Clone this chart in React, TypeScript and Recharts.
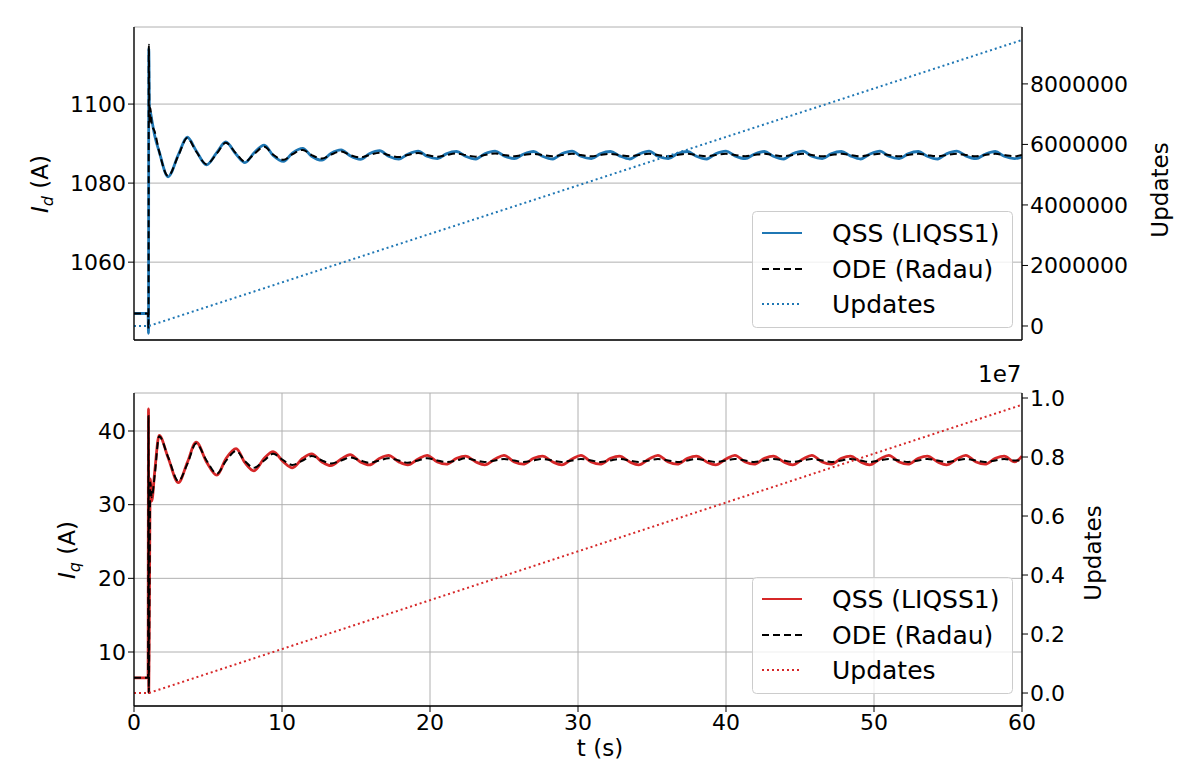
import React from 'react';
import { ComposedChart, Line, XAxis, YAxis, CartesianGrid } from 'recharts';

const timeS = [0, 0.95, 0.98, 1.0, 1.05, 1.1, 1.2, 1.4, 1.7, 2.3, 3.0, 3.6, 4.2, 4.9, 5.6, 6.2, 6.9, 7.5, 8.1, 8.8, 9.4, 10.1, 10.7, 11.4, 12.0, 12.7, 13.3, 14.0, 14.6, 15.3, 15.9, 16.6, 17.2, 17.9, 18.5, 19.2, 19.8, 20.5, 21.1, 21.8, 22.4, 23.1, 23.7, 24.4, 25.0, 25.7, 26.3, 27.0, 27.6, 28.3, 28.9, 29.6, 30.2, 30.9, 31.5, 32.2, 32.8, 33.5, 34.1, 34.8, 35.4, 36.1, 36.7, 37.4, 38.0, 38.7, 39.3, 40.0, 40.6, 41.3, 41.9, 42.6, 43.2, 43.9, 44.5, 45.2, 45.8, 46.5, 47.1, 47.8, 48.4, 49.1, 49.7, 50.4, 51.0, 51.7, 52.3, 53.0, 53.6, 54.3, 54.9, 55.6, 56.2, 56.9, 57.5, 58.2, 58.8, 59.5, 60];

const idOde = [1047, 1047, 1043, 1115, 1095, 1099, 1095, 1093, 1088, 1081.8, 1087, 1091.4, 1088, 1084.8, 1087.5, 1090.2, 1087.5, 1085.4, 1087.3, 1089.2, 1087.2, 1085.9, 1087.3, 1088.4, 1087.1, 1086.2, 1087.2, 1088.0, 1087.1, 1086.5, 1087.1, 1087.7, 1087.1, 1086.6, 1087.1, 1087.6, 1087.1, 1086.7, 1087.1, 1087.5, 1087.1, 1086.7, 1087.1, 1087.5, 1087.1, 1086.8, 1087.1, 1087.4, 1087.1, 1086.8, 1087.1, 1087.4, 1087.1, 1086.8, 1087.1, 1087.4, 1087.1, 1086.8, 1087.1, 1087.4, 1087.1, 1086.8, 1087.1, 1087.4, 1087.1, 1086.8, 1087.1, 1087.4, 1087.1, 1086.8, 1087.1, 1087.4, 1087.1, 1086.8, 1087.1, 1087.4, 1087.1, 1086.8, 1087.1, 1087.4, 1087.1, 1086.8, 1087.1, 1087.4, 1087.1, 1086.8, 1087.1, 1087.4, 1087.1, 1086.8, 1087.1, 1087.4, 1087.1, 1086.8, 1087.1, 1087.4, 1087.1, 1086.8, 1087.1];
const idQss = [1047, 1047, 1042, 1114, 1096, 1098, 1096, 1092, 1088, 1081.6, 1087.2, 1091.6, 1088.2, 1084.6, 1087.8, 1090.4, 1087.3, 1085.2, 1087.6, 1089.6, 1087.0, 1085.5, 1087.6, 1088.8, 1086.8, 1085.8, 1087.5, 1088.4, 1086.9, 1086.0, 1087.4, 1088.2, 1086.8, 1086.1, 1087.3, 1088.1, 1086.8, 1086.2, 1087.4, 1088.0, 1086.8, 1086.1, 1087.4, 1088.1, 1086.9, 1086.2, 1087.3, 1088.0, 1086.8, 1086.1, 1087.4, 1088.1, 1086.8, 1086.2, 1087.4, 1088.0, 1086.9, 1086.1, 1087.3, 1088.1, 1086.8, 1086.2, 1087.4, 1088.0, 1086.8, 1086.1, 1087.4, 1088.1, 1086.9, 1086.2, 1087.3, 1088.0, 1086.8, 1086.1, 1087.4, 1088.1, 1086.8, 1086.2, 1087.4, 1088.0, 1086.9, 1086.1, 1087.3, 1088.1, 1086.8, 1086.2, 1087.4, 1088.0, 1086.8, 1086.1, 1087.4, 1088.1, 1086.9, 1086.2, 1087.3, 1088.0, 1086.8, 1086.2, 1086.6];

const iqOde = [6.5, 6.5, 42, 4.5, 19, 33, 31, 34, 39.3, 36.5, 33.2, 35.5, 38.3, 36.0, 34.2, 35.9, 37.3, 35.9, 35.0, 36.0, 36.9, 36.0, 35.4, 36.0, 36.6, 36.0, 35.6, 36.0, 36.4, 36.0, 35.7, 36.0, 36.3, 36.0, 35.7, 36.0, 36.3, 36.0, 35.8, 36.0, 36.3, 36.0, 35.8, 36.0, 36.2, 36.0, 35.8, 36.0, 36.2, 36.0, 35.8, 36.0, 36.2, 36.0, 35.8, 36.0, 36.2, 36.0, 35.8, 36.0, 36.2, 36.0, 35.8, 36.0, 36.2, 36.0, 35.8, 36.0, 36.2, 36.0, 35.8, 36.0, 36.2, 36.0, 35.8, 36.0, 36.2, 36.0, 35.8, 36.0, 36.2, 36.0, 35.8, 36.0, 36.2, 36.0, 35.8, 36.0, 36.2, 36.0, 35.8, 36.0, 36.2, 36.0, 35.8, 36.0, 36.2, 36.0, 36.0];
const iqQss = [6.5, 6.5, 43, 4.5, 20, 33.5, 30.5, 34.5, 39.4, 36.4, 33.0, 35.7, 38.5, 35.8, 34.0, 36.2, 37.6, 35.7, 34.6, 36.3, 37.2, 35.8, 35.0, 36.3, 36.9, 35.8, 35.3, 36.2, 36.8, 35.8, 35.4, 36.3, 36.7, 35.8, 35.4, 36.2, 36.7, 35.8, 35.5, 36.3, 36.6, 35.8, 35.4, 36.2, 36.7, 35.8, 35.5, 36.3, 36.6, 35.8, 35.4, 36.2, 36.7, 35.8, 35.5, 36.3, 36.6, 35.8, 35.4, 36.2, 36.7, 35.8, 35.5, 36.3, 36.6, 35.8, 35.4, 36.2, 36.7, 35.8, 35.5, 36.3, 36.6, 35.8, 35.4, 36.2, 36.7, 35.8, 35.5, 36.3, 36.6, 35.8, 35.4, 36.2, 36.7, 35.8, 35.5, 36.3, 36.6, 35.8, 35.4, 36.2, 36.7, 35.8, 35.5, 36.3, 36.6, 35.8, 36.6];

const updTime = [0, 1, 60];
const updTop = [0, 0, 9450000];
const updBottom = [0, 0, 0.977];

const xTicks = [0, 10, 20, 30, 40, 50, 60];
const idTicks = [1060, 1080, 1100];
const updTopTicks = [0, 2000000, 4000000, 6000000, 8000000];
const iqTicks = [10, 20, 30, 40];
const updBottomTicks = [0, 0.2, 0.4, 0.6, 0.8, 1.0];

const topData = timeS.map((t, i) => ({ t, qss: idQss[i], ode: idOde[i] }));
const bottomData = timeS.map((t, i) => ({ t, qss: iqQss[i], ode: iqOde[i] }));
const topUpd = updTime.map((t, i) => ({ t, upd: updTop[i] }));
const bottomUpd = updTime.map((t, i) => ({ t, upd: updBottom[i] }));

const FONT = 'DejaVu Sans';
const tickStyle = { fill: '#000', fontSize: 22, fontFamily: FONT };
const axisLine = { stroke: '#000', strokeWidth: 1.3 };

function Legend({ color, top }: { color: string; top: number }) {
  const row = (dash: string, label: string, c: string, y: number) => (
    <g key={label}>
      <line x1={10} x2={50} y1={y} y2={y} stroke={c} strokeWidth={2} strokeDasharray={dash} />
      <text x={80} y={y + 9} fontSize={25} fontFamily={FONT}>{label}</text>
    </g>
  );
  return (
    <svg style={{ position: 'absolute', left: 752, top }} width={262} height={118}>
      <rect x={0.5} y={0.5} width={260} height={116} rx={4} fill="rgba(255,255,255,0.8)" stroke="#ccc" />
      {row('', 'QSS (LIQSS1)', color, 22)}
      {row('7 4', 'ODE (Radau)', '#000', 58)}
      {row('2 3', 'Updates', color, 93)}
    </svg>
  );
}

function Panel({ data, upd, color, leftDomain, leftTicks, rightDomain, rightTicks, rightFmt, showX, height }: any) {
  return (
    <ComposedChart width={1200} height={height} margin={{ top: 27, right: 0, bottom: 0, left: 0 }}>
      <CartesianGrid stroke="#b0b0b0" strokeWidth={1} xAxisId="b" yAxisId="l" />
      <XAxis xAxisId="b" dataKey="t" type="number" domain={[0, 60]} ticks={xTicks} allowDataOverflow
        height={height - 340} tick={showX ? tickStyle : false} tickSize={6} tickLine={{ stroke: '#000' }} axisLine={axisLine} />
      <XAxis xAxisId="t" orientation="top" dataKey="t" type="number" domain={[0, 60]} height={0} tick={false} tickLine={false} axisLine={axisLine} />
      <YAxis yAxisId="l" type="number" domain={leftDomain} ticks={leftTicks} allowDataOverflow width={134}
        tick={tickStyle} tickLine={{ stroke: '#000' }} tickSize={6} axisLine={axisLine} />
      <YAxis yAxisId="r" orientation="right" type="number" domain={rightDomain} ticks={rightTicks} allowDataOverflow width={178}
        tick={tickStyle} tickFormatter={rightFmt} tickLine={{ stroke: '#000' }} tickSize={6} axisLine={axisLine} />
      <Line data={data} xAxisId="b" yAxisId="l" dataKey="qss" stroke={color} strokeWidth={2.8} dot={false} isAnimationActive={false} type="monotone" />
      <Line data={data} xAxisId="b" yAxisId="l" dataKey="ode" stroke="#000" strokeWidth={2} strokeDasharray="7 4" dot={false} isAnimationActive={false} type="monotone" />
      <Line data={upd} xAxisId="b" yAxisId="r" dataKey="upd" stroke={color} strokeWidth={2} strokeDasharray="2 3" dot={false} isAnimationActive={false} />
    </ComposedChart>
  );
}

const vLabel = (text: React.ReactNode, left: number, top: number) => (
  <div style={{ position: 'absolute', left, top, transform: 'translate(-50%,-50%) rotate(-90deg)', fontSize: 23, fontFamily: FONT, whiteSpace: 'nowrap' }}>{text}</div>
);

export default function App() {
  return (
    <div style={{ position: 'absolute', left: 0, top: 0, width: 1200, height: 766, background: '#fff', fontFamily: FONT }}>
      <div style={{ position: 'absolute', left: 0, top: 0 }}>
        <Panel data={topData} upd={topUpd} color="#1f77b4" leftDomain={[1040.3, 1119.5]} leftTicks={idTicks}
          rightDomain={[-463000, 9880000]} rightTicks={updTopTicks} rightFmt={(v: number) => String(v)} showX={false} height={360} />
      </div>
      <div style={{ position: 'absolute', left: 0, top: 366 }}>
        <Panel data={bottomData} upd={bottomUpd} color="#d62728" leftDomain={[2.67, 45.16]} leftTicks={iqTicks}
          rightDomain={[-0.044, 1.017]} rightTicks={updBottomTicks} rightFmt={(v: number) => v.toFixed(1)} showX height={400} />
      </div>
      <Legend color="#1f77b4" top={211} />
      <Legend color="#d62728" top={577} />
      {vLabel(<span><i>I</i><sub style={{ fontSize: 16 }}><i>d</i></sub> (A)</span>, 42, 184)}
      {vLabel(<span><i>I</i><sub style={{ fontSize: 16 }}><i>q</i></sub> (A)</span>, 69, 550)}
      {vLabel('Updates', 1160, 190)}
      {vLabel('Updates', 1093, 553)}
      <div style={{ position: 'absolute', left: 978, top: 361, fontSize: 23 }}>1e7</div>
      <div style={{ position: 'absolute', left: 600, top: 748, transform: 'translate(-50%,-50%)', fontSize: 23 }}>t (s)</div>
    </div>
  );
}
